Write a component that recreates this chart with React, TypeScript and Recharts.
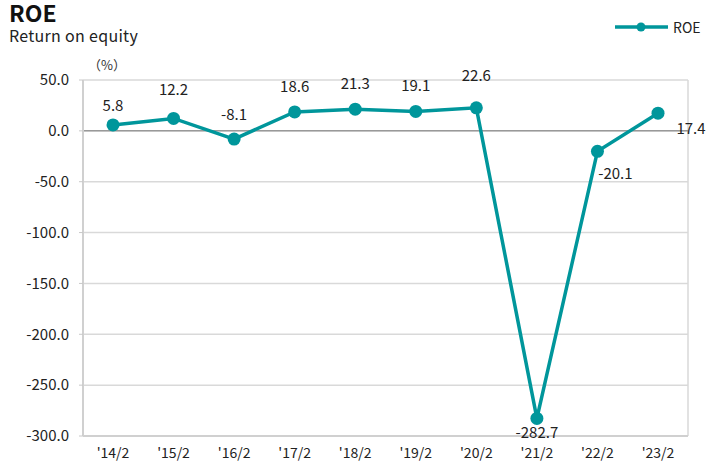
import React from "react";
import { LineChart, Line, XAxis, YAxis, CartesianGrid, ReferenceLine } from "recharts";

const categories = ["'14/2", "'15/2", "'16/2", "'17/2", "'18/2", "'19/2", "'20/2", "'21/2", "'22/2", "'23/2"];
const roeValues = [5.8, 12.2, -8.1, 18.6, 21.3, 19.1, 22.6, -282.7, -20.1, 17.4];
const yTicks = [50, 0, -50, -100, -150, -200, -250, -300];

const data = categories.map((c, i) => ({ cat: c, roe: roeValues[i] }));

const TEAL = "#00969b";
const FONT = "'Noto Sans CJK JP', 'Noto Sans', sans-serif";

// label offsets (style only)
const labelOffsets: [number, number][] = [
  [0, -20], [0, -30], [0, -26], [0, -26], [0, -27], [0, -27], [0, -33], [0, 13], [18, 21], [33, 14],
];

const renderLabel = (props: any) => {
  const { x, y, value, index } = props;
  const [dx, dy] = labelOffsets[index] || [0, -20];
  return (
    <text x={x + dx} y={y + dy} textAnchor="middle" dominantBaseline="central" fontSize={15} fill="#222" fontFamily={FONT}>
      {Number(value).toFixed(1)}
    </text>
  );
};

export default function App() {
  return (
    <div style={{ position: "absolute", left: 0, top: 0, width: 708, height: 465, background: "#fff", fontFamily: FONT }}>
      <div style={{ position: "absolute", left: 9, top: 0, fontSize: 23, fontWeight: 700, color: "#111", lineHeight: "25px" }}>ROE</div>
      <div style={{ position: "absolute", left: 9, top: 26, fontSize: 16, color: "#222", lineHeight: "18px", letterSpacing: 0.3 }}>Return on equity</div>
      <div style={{ position: "absolute", left: 88, top: 56, fontSize: 13, color: "#333", lineHeight: "18px" }}>（%）</div>
      <svg style={{ position: "absolute", left: 612, top: 17 }} width={60} height={20}>
        <line x1={3} y1={10} x2={56} y2={10} stroke={TEAL} strokeWidth={3.5} />
        <circle cx={29} cy={10} r={4.5} fill={TEAL} />
      </svg>
      <div style={{ position: "absolute", left: 673, top: 17, fontSize: 14, color: "#222", lineHeight: "20px" }}>ROE</div>
      <div style={{ position: "absolute", left: 0, top: 0 }}>
        <LineChart width={708} height={465} data={data} margin={{ top: 80, right: 20, bottom: 0, left: 0 }}>
          <CartesianGrid
            stroke="#d9d9d9"
            strokeWidth={1.5}
            vertical={true}
            verticalCoordinatesGenerator={(p: any) => [p.offset.left, p.offset.left + p.offset.width]}
          />
          <XAxis
            dataKey="cat"
            tickLine={false}
            axisLine={{ stroke: "#d0d0d0", strokeWidth: 2 }}
            height={29}
            padding={{ left: 30, right: 30 }}
            tick={{ fontSize: 14, fill: "#222", fontFamily: FONT }}
            tickMargin={6}
            interval={0}
          />
          <YAxis
            domain={[-300, 50]}
            ticks={yTicks}
            width={83}
            tickLine={{ stroke: "#c8c8c8" }}
            tickSize={4}
            axisLine={{ stroke: "#d0d0d0", strokeWidth: 2 }}
            tick={{ fontSize: 15, fill: "#222", fontFamily: FONT }}
            tickFormatter={(v: number) => v.toFixed(1)}
            tickMargin={10}
            allowDataOverflow
          />
          <ReferenceLine y={0} stroke="#999" strokeWidth={1.5} />
          <Line
            type="linear"
            dataKey="roe"
            stroke={TEAL}
            strokeWidth={3.5}
            dot={{ r: 6.5, fill: TEAL, stroke: TEAL, strokeWidth: 0 }}
            activeDot={false}
            isAnimationActive={false}
            label={renderLabel}
          />
        </LineChart>
      </div>
    </div>
  );
}
